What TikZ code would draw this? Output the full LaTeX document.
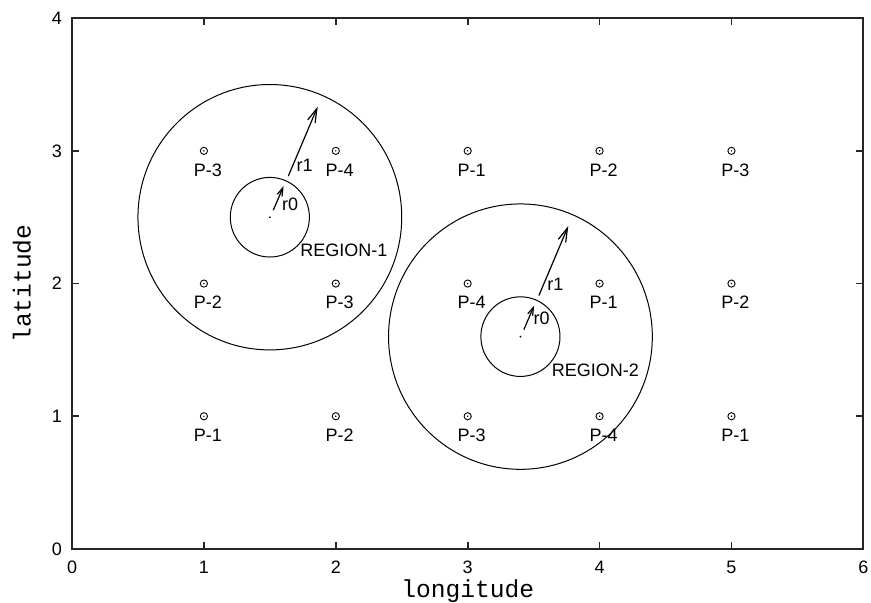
\documentclass[tikz,border=0pt]{standalone}
\usepackage{fontspec}
\setmainfont{Liberation Sans}
\newfontfamily\axmono{Liberation Mono}
\usetikzlibrary{arrows.meta}
\begin{document}
\begin{tikzpicture}[x=65.95pt,y=66.35pt,
  frame/.style={line width=0.9pt,color=black!85},
  ptmark/.style={circle,draw,line width=0.45pt,inner sep=0pt,minimum size=3.6pt,
    path picture={\fill (path picture bounding box.center) circle (0.4pt);}},
  lbl/.style={font=\fontsize{9}{10}\selectfont,inner sep=0pt},
  axlbl/.style={font=\axmono\fontsize{12.3}{14}\selectfont,inner sep=0pt},
  ring/.style={line width=0.5pt},
  radarrow/.style={line width=0.6pt,-{Straight Barb[length=7pt,width=4pt]}},
  smallarrow/.style={line width=0.6pt,-{Straight Barb[length=4pt,width=2.6pt]}},
]
\useasboundingbox (-0.546,-0.407) rectangle (6.058,4.137);
% frame and ticks
\draw[frame] (0,0) rectangle (6,4);
\foreach \i in {1,...,5} {
  \draw[frame] (\i,0) -- ++(0,3.5pt);
  \draw[frame] (\i,4) -- ++(0,-3.5pt);
}
\foreach \j in {1,...,3} {
  \draw[frame] (0,\j) -- ++(3.5pt,0);
  \draw[frame] (6,\j) -- ++(-3.5pt,0);
}
\foreach \i in {0,...,6} { \node[lbl] (xt\i) at (\i,-0.137) {\i}; }
\foreach \j in {0,...,4} { \node[lbl] (yt\j) at (-0.114,\j) {\j}; }
\node[axlbl] (xlab) at (3,-0.32) {longitude};
\node[axlbl,rotate=90] (ylab) at (-0.38,2) {latitude};
% points
\foreach \i/\a/\b/\c in {1/3/2/1, 2/4/3/2, 3/1/4/3, 4/2/1/4, 5/3/2/1} {
  \node[ptmark] (p\i c) at (\i,3) {};
  \node[ptmark] (p\i b) at (\i,2) {};
  \node[ptmark] (p\i a) at (\i,1) {};
  \node[lbl] (l\i c) at (\i+0.03,3-0.143) {P-\a};
  \node[lbl] (l\i b) at (\i+0.03,2-0.143) {P-\b};
  \node[lbl] (l\i a) at (\i+0.03,1-0.143) {P-\c};
}
% region 1
\coordinate (c1) at (1.5,2.5);
\fill (c1) circle (0.5pt);
\draw[ring] (c1) circle (1);
\draw[ring] (c1) circle (0.3);
\coordinate (a1s) at (1.64,2.81);
\coordinate (a1e) at (1.863,3.334);
\coordinate (b1s) at (1.526,2.553);
\coordinate (b1e) at (1.604,2.734);
\draw[radarrow] (a1s) -- (a1e);
\draw[smallarrow] (b1s) -- (b1e);
\node[lbl] (r1a) at (1.763,2.893) {r1};
\node[lbl] (r0a) at (1.653,2.595) {r0};
\node[lbl,anchor=west] (reg1) at (1.729,2.253) {REGION-1};
% region 2
\coordinate (c2) at (3.4,1.6);
\fill (c2) circle (0.5pt);
\draw[ring] (c2) circle (1);
\draw[ring] (c2) circle (0.3);
\coordinate (a2s) at (3.54,1.91);
\coordinate (a2e) at (3.763,2.434);
\coordinate (b2s) at (3.426,1.653);
\coordinate (b2e) at (3.504,1.834);
\draw[radarrow] (a2s) -- (a2e);
\draw[smallarrow] (b2s) -- (b2e);
\node[lbl] (r1b) at (3.665,1.993) {r1};
\node[lbl] (r0b) at (3.561,1.738) {r0};
\node[lbl,anchor=west] (reg2) at (3.635,1.349) {REGION-2};
\end{tikzpicture}
\end{document}
